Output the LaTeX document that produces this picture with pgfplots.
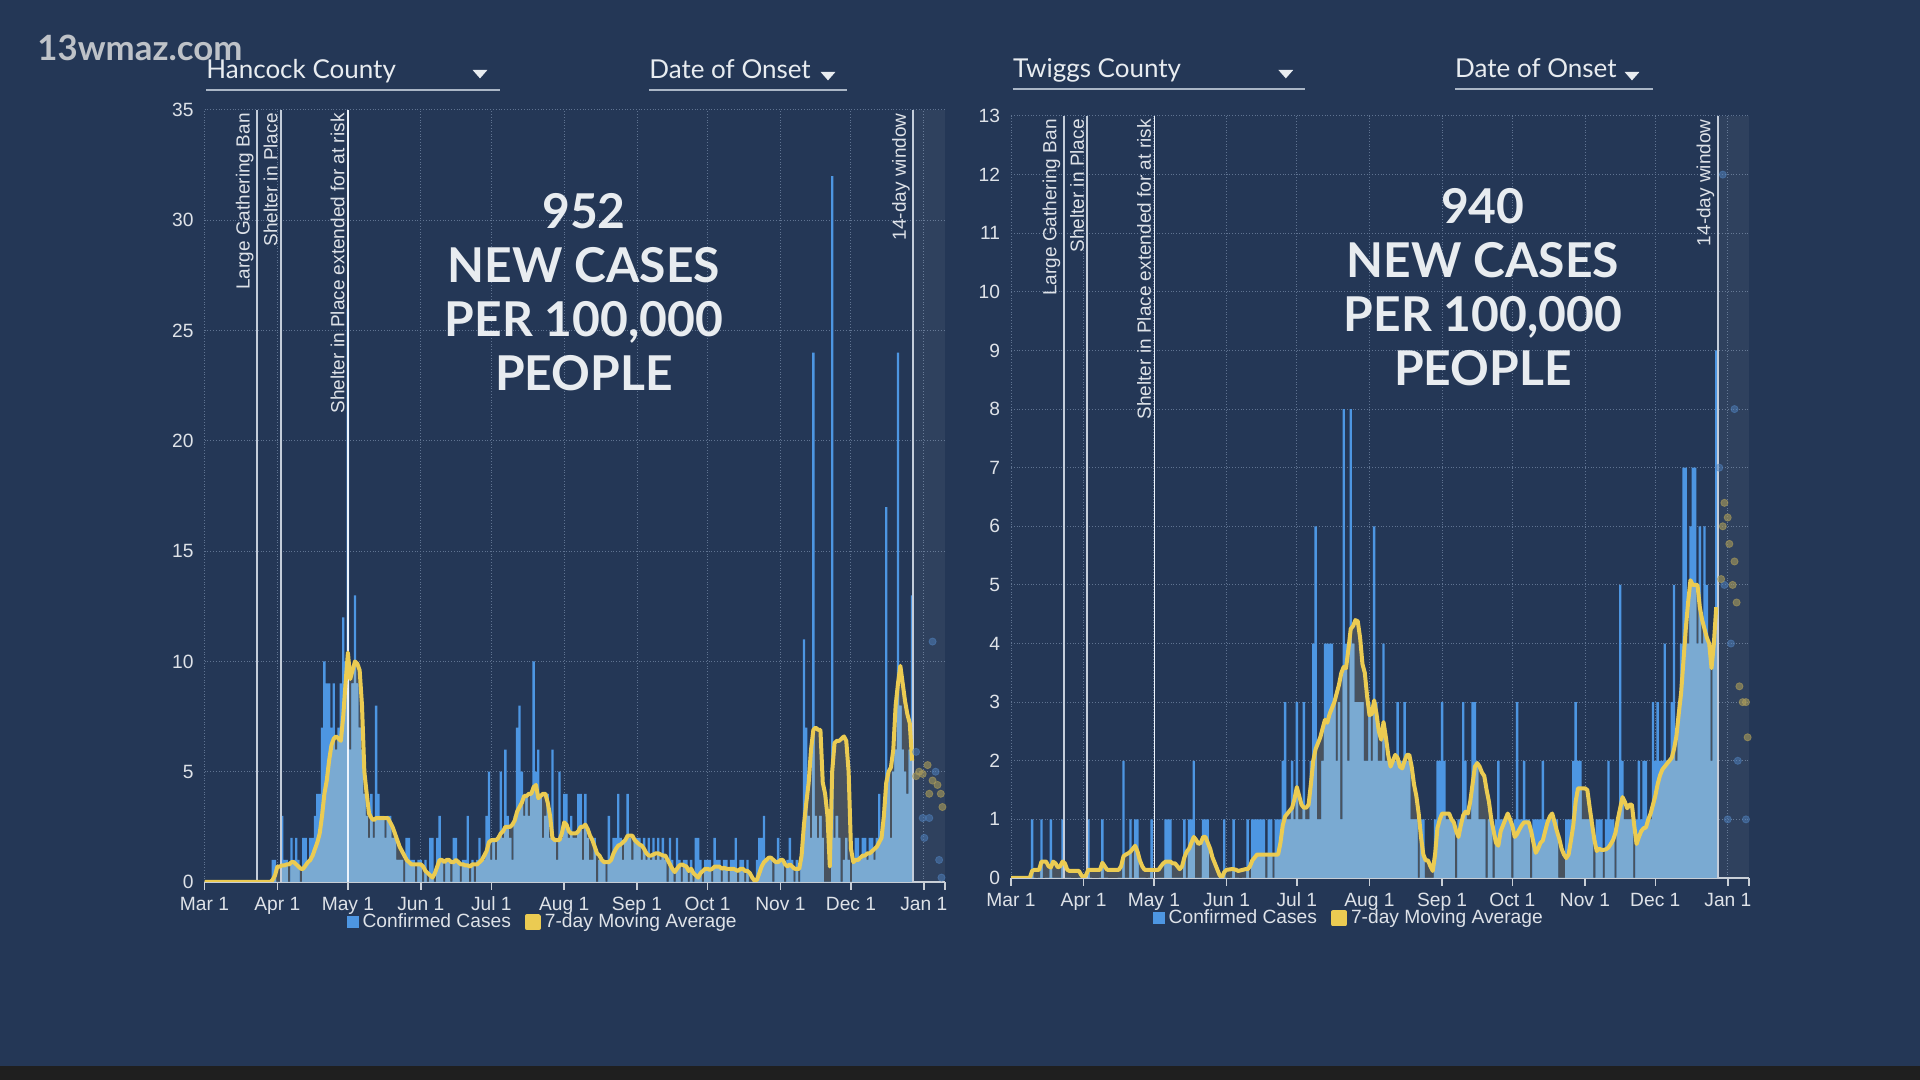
\documentclass[border=0pt]{standalone}
\usepackage{fontspec}
\setmainfont{Liberation Sans}
\newfontfamily\lato{Lato}
\usepackage{pgfplots}
\usepackage{pgfplotstable}
\pgfplotsset{compat=1.18}

\definecolor{bg}{RGB}{36,55,86}
\definecolor{barblue}{RGB}{77,150,226}
\definecolor{lightbar}{RGB}{122,170,210}
\definecolor{mafill}{RGB}{72,82,94}
\definecolor{mayel}{RGB}{235,203,82}
\definecolor{gridc}{RGB}{95,115,145}
\definecolor{axc}{RGB}{200,206,214}
\definecolor{txt}{RGB}{222,226,232}
\definecolor{evline}{RGB}{196,205,218}
\definecolor{titlec}{RGB}{232,236,240}
\definecolor{ulc}{RGB}{170,182,198}
\definecolor{dotblue}{RGB}{80,130,190}
\definecolor{dotyel}{RGB}{170,155,90}
\definecolor{wmc}{RGB}{190,194,200}

\pgfplotstableread[row sep=\\]{
d v m\\
0 0 0\\ 28 0 0\\ 29 1 0.1\\ 30 1 0.3\\ 31 0 0.7\\ 32 0 0.7\\ 33 3 0.75\\ 34 1 0.75\\ 35 1 0.8\\ 36 0 0.8\\ 37 2 0.9\\ 38 1 0.9\\ 39 2 0.8\\ 40 1 0.7\\
41 0 0.6\\ 42 2 0.6\\ 43 2 0.75\\ 44 1 0.9\\ 45 2 1.0\\ 46 2 1.2\\ 47 3 1.5\\ 48 4 1.8\\ 49 4 2.2\\ 50 7 3.0\\ 51 10 4.0\\ 52 9 4.6\\ 53 9 5.5\\ 54 7 6.2\\ 55 9 6.5\\
56 6 6.6\\ 57 7 6.5\\ 58 9 6.4\\ 59 12 7.5\\ 60 10 9.0\\ 61 26 10.4\\ 62 6 9.2\\ 63 9 9.6\\ 64 13 10.0\\ 65 9 9.9\\ 66 7 9.6\\ 67 6 8.0\\ 68 4 5.0\\ 69 3 4.0\\ 70 2 3.1\\
71 4 2.9\\ 72 2 2.8\\ 73 8 2.9\\ 74 4 2.9\\ 75 3 2.9\\ 76 3 2.9\\ 77 2 2.9\\ 78 3 2.9\\ 79 3 2.7\\ 80 2 2.5\\ 81 2 2.2\\ 82 1 1.9\\ 83 1 1.6\\ 84 1 1.4\\ 85 0 1.2\\
86 2 1.0\\ 87 2 0.9\\ 88 1 0.8\\ 89 1 0.8\\ 90 0 0.8\\ 91 1 0.8\\ 92 1 0.8\\ 93 0 0.7\\ 94 1 0.5\\ 95 0 0.4\\ 96 2 0.3\\ 97 2 0.2\\ 98 0 0.4\\ 99 2 0.7\\ 100 3 1.0\\
101 1 1.0\\ 102 0 0.9\\ 103 1 1.0\\ 104 1 1.0\\ 105 0 0.9\\ 106 2 0.9\\ 107 2 1.0\\ 108 1 0.9\\ 109 0 0.8\\ 110 1 0.8\\ 111 1 0.75\\ 112 3 0.75\\ 113 0 0.7\\ 114 1 0.8\\ 115 0 0.8\\
116 1 0.8\\ 117 2 0.9\\ 118 1 1.0\\ 119 1 1.2\\ 120 3 1.4\\ 121 5 1.8\\ 122 1 1.9\\ 123 2 1.9\\ 124 1 1.9\\ 125 2 2.0\\ 126 5 2.2\\ 127 2 2.3\\ 128 6 2.5\\ 129 3 2.5\\ 130 2 2.5\\
131 1 2.6\\ 132 3 2.8\\ 133 7 3.2\\ 134 8 3.4\\ 135 5 3.6\\ 136 3 3.9\\ 137 4 3.9\\ 138 3 4.0\\ 139 4 4.0\\ 140 10 4.3\\ 141 5 4.4\\ 142 6 3.8\\ 143 4 3.9\\ 144 2 4.0\\ 145 3 4.0\\
146 4 3.6\\ 147 2 3.0\\ 148 6 2.0\\ 149 2 1.9\\ 150 1 1.9\\ 151 5 1.9\\ 152 2 2.2\\ 153 4 2.7\\ 154 4 2.6\\ 155 2 2.3\\ 156 3 2.2\\ 157 2 2.2\\ 158 2 2.2\\ 159 4 2.3\\ 160 4 2.5\\
161 1 2.5\\ 162 4 2.6\\ 163 2 2.4\\ 164 1 2.1\\ 165 1 1.9\\ 166 2 1.6\\ 167 0 1.3\\ 168 1 1.2\\ 169 1 1.0\\ 170 1 0.9\\ 171 0 0.9\\ 172 3 0.9\\ 173 1 1.0\\ 174 2 1.3\\ 175 2 1.5\\
176 4 1.65\\ 177 2 1.7\\ 178 1 1.8\\ 179 2 1.9\\ 180 4 2.1\\ 181 2 2.1\\ 182 1 2.1\\ 183 2 1.9\\ 184 2 1.8\\ 185 2 1.7\\ 186 1 1.65\\ 187 2 1.5\\ 188 1 1.3\\ 189 2 1.2\\ 190 1 1.2\\
191 2 1.25\\ 192 1 1.3\\ 193 2 1.3\\ 194 1 1.25\\ 195 2 1.2\\ 196 1 1.2\\ 197 0 1.0\\ 198 2 0.8\\ 199 1 0.6\\ 200 0 0.45\\ 201 2 0.6\\ 202 1 0.75\\ 203 0 0.8\\ 204 1 0.75\\ 205 1 0.7\\
206 0 0.5\\ 207 1 0.6\\ 208 0 0.4\\ 209 2 0.3\\ 210 2 0.2\\ 211 1 0.4\\ 212 0 0.5\\ 213 1 0.6\\ 214 1 0.6\\ 215 1 0.55\\ 216 0 0.6\\ 217 2 0.7\\ 218 1 0.7\\ 219 1 0.7\\ 220 0 0.6\\
221 1 0.65\\ 222 1 0.6\\ 223 0 0.6\\ 224 1 0.6\\ 225 1 0.6\\ 226 2 0.55\\ 227 0 0.5\\ 228 1 0.6\\ 229 1 0.6\\ 230 0 0.5\\ 231 1 0.5\\ 232 0 0.4\\ 233 0 0.2\\ 234 0 0.05\\ 235 1 0.1\\
236 2 0.4\\ 237 2 0.7\\ 238 3 0.9\\ 239 1 1.0\\ 240 1 1.1\\ 241 1 1.1\\ 242 0 1.0\\ 243 1 0.9\\ 244 2 0.9\\ 245 1 1.0\\ 246 1 1.0\\ 247 0 0.8\\ 248 1 0.7\\ 249 2 0.8\\ 250 1 0.7\\
251 0 0.6\\ 252 1 0.6\\ 253 0 0.6\\ 254 1 1.2\\ 255 11 2.6\\ 256 7 3.6\\ 257 3 4.5\\ 258 2 6.0\\ 259 24 6.9\\ 260 3 7.0\\ 261 2 6.9\\ 262 3 6.9\\ 263 2 4.5\\ 264 0 4.0\\ 265 0 3.0\\
266 0 0.7\\ 267 32 5.0\\ 268 2 6.3\\ 269 3 6.4\\ 270 2 6.4\\ 271 0 6.5\\ 272 1 6.6\\ 273 2 6.4\\ 274 1 5.0\\ 275 0 1.5\\ 276 1 0.9\\ 277 2 1.0\\ 278 2 1.0\\ 279 1 1.1\\ 280 2 1.2\\
281 2 1.2\\ 282 1 1.3\\ 283 2 1.3\\ 284 2 1.4\\ 285 1 1.5\\ 286 2 1.6\\ 287 4 1.8\\ 288 2 2.0\\ 289 3 3.0\\ 290 17 4.5\\ 291 5 5.0\\ 292 2 5.2\\ 293 5 6.0\\ 294 6 8.0\\ 295 24 9.0\\
296 8 9.8\\ 297 6 9.0\\ 298 5 8.2\\ 299 4 7.6\\ 300 6 7.2\\ 301 13 5.5\\
}\hancock

\pgfplotstableread[row sep=\\]{
d v m\\
0 0 0\\ 8 0 0\\ 9 1 0.12\\ 10 0 0.14\\ 12 0 0.14\\ 13 1 0.28\\ 15 0 0.28\\ 16 0 0.2\\ 17 1 0.18\\ 18 0 0.28\\ 19 0 0.25\\ 20 0 0.18\\ 21 0 0.2\\ 22 1 0.28\\ 23 0 0.25\\
24 0 0.14\\ 25 0 0.12\\ 29 0 0.12\\ 30 0 0.05\\ 31 0 0\\ 32 0 0.05\\ 33 1 0.14\\ 34 0 0.14\\ 38 0 0.14\\ 39 1 0.26\\ 40 0 0.2\\ 41 0 0.14\\ 46 0 0.14\\ 47 0 0.2\\ 48 2 0.37\\
49 0 0.4\\ 50 0 0.42\\ 51 1 0.45\\ 52 0 0.5\\ 53 1 0.55\\ 54 1 0.45\\ 55 0 0.3\\ 56 0 0.2\\ 57 0 0.14\\ 59 0 0.14\\ 60 1 0.14\\ 63 0 0.14\\ 64 0 0.2\\ 65 0 0.25\\ 66 1 0.28\\
67 1 0.28\\ 68 1 0.28\\ 69 0 0.25\\ 70 0 0.25\\ 71 0 0.2\\ 72 0 0.15\\ 73 0 0.2\\ 74 1 0.35\\ 75 0 0.45\\ 76 1 0.5\\ 77 1 0.6\\ 78 2 0.7\\ 79 0 0.65\\ 80 0 0.58\\ 81 0 0.6\\
82 1 0.7\\ 83 1 0.7\\ 84 1 0.6\\ 85 0 0.5\\ 86 0 0.35\\ 87 0 0.25\\ 88 0 0.15\\ 89 0 0.05\\ 90 0 0\\ 91 1 0.1\\ 92 0 0.14\\ 94 0 0.15\\ 95 1 0.15\\ 96 0 0.14\\ 97 0 0.12\\
99 0 0.14\\ 100 0 0.15\\ 101 1 0.15\\ 102 0 0.2\\ 103 1 0.3\\ 104 1 0.35\\ 105 1 0.4\\ 106 1 0.4\\ 107 1 0.4\\ 108 1 0.4\\ 109 0 0.4\\ 110 1 0.4\\ 111 1 0.4\\ 112 0 0.4\\ 113 1 0.4\\
114 1 0.4\\ 115 1 0.6\\ 116 2 0.9\\ 117 3 1.05\\ 118 1 1.1\\ 119 1 1.15\\ 120 2 1.2\\ 121 1 1.35\\ 122 3 1.55\\ 123 1 1.4\\ 124 1 1.25\\ 125 3 1.2\\ 126 1 1.2\\ 127 1 1.25\\ 128 2 1.6\\
129 4 2.0\\ 130 6 2.2\\ 131 1 2.3\\ 132 1 2.4\\ 133 2 2.55\\ 134 4 2.7\\ 135 4 2.65\\ 136 4 2.8\\ 137 4 2.9\\ 138 3 3.0\\ 139 2 3.15\\ 140 3 3.3\\ 141 1 3.5\\ 142 8 3.6\\ 143 4 3.58\\
144 2 3.9\\ 145 8 4.25\\ 146 4 4.3\\ 147 3 4.4\\ 148 3 4.38\\ 149 3 4.1\\ 150 3 3.65\\ 151 2 3.5\\ 152 2 3.1\\ 153 3 2.78\\ 154 2 2.8\\ 155 6 3.03\\ 156 3 2.8\\ 157 2 2.5\\ 158 2 2.36\\
159 4 2.66\\ 160 2 2.4\\ 161 2 2.1\\ 162 2 1.9\\ 163 2 2.0\\ 164 2 2.1\\ 165 3 2.05\\ 166 2 1.9\\ 167 2 1.87\\ 168 3 2.0\\ 169 2 2.1\\ 170 2 2.1\\ 171 1 1.9\\ 172 1 1.6\\ 173 1 1.4\\
174 0 1.1\\ 175 1 0.7\\ 176 1 0.4\\ 177 0 0.3\\ 178 0 0.3\\ 179 0 0.2\\ 180 0 0.12\\ 181 1 0.4\\ 182 2 0.85\\ 183 2 1.0\\ 184 3 1.1\\ 185 2 1.1\\ 186 1 1.1\\ 187 1 1.1\\ 188 1 1.0\\
189 1 0.95\\ 190 0 0.8\\ 191 1 0.7\\ 192 1 0.9\\ 193 3 1.07\\ 194 2 1.13\\ 195 1 1.1\\ 196 1 1.3\\ 197 3 1.6\\ 198 3 1.9\\ 199 2 1.96\\ 200 1 1.9\\ 201 1 1.8\\ 202 1 1.74\\ 203 0 1.5\\
204 1 1.3\\ 205 1 1.0\\ 206 0 0.8\\ 207 1 0.6\\ 208 2 0.55\\ 209 1 0.8\\ 210 1 0.9\\ 211 1 1.0\\ 212 1 1.1\\ 213 1 1.0\\ 214 0 0.89\\ 215 1 0.7\\ 216 3 0.75\\ 217 1 0.83\\ 218 1 0.9\\
219 2 0.95\\ 220 1 0.95\\ 221 1 0.95\\ 222 0 0.8\\ 223 1 0.6\\ 224 1 0.43\\ 225 1 0.5\\ 226 1 0.6\\ 227 2 0.64\\ 228 1 0.8\\ 229 1 0.95\\ 230 1 1.05\\ 231 1 1.1\\ 232 1 0.95\\ 233 1 0.8\\
234 0 0.67\\ 235 0 0.5\\ 236 0 0.4\\ 237 1 0.34\\ 238 1 0.4\\ 239 1 0.64\\ 240 2 0.9\\ 241 3 1.3\\ 242 2 1.53\\ 243 2 1.53\\ 244 1 1.53\\ 245 1 1.53\\ 246 1 1.5\\ 247 1 1.2\\ 248 1 0.92\\
249 0 0.65\\ 250 1 0.46\\ 251 1 0.5\\ 252 1 0.48\\ 253 0 0.48\\ 254 1 0.49\\ 255 2 0.52\\ 256 1 0.58\\ 257 1 0.65\\ 258 0 0.77\\ 259 1 1.0\\ 260 5 1.19\\ 261 2 1.38\\ 262 1 1.3\\ 263 1 1.19\\
264 1 1.25\\ 265 1 1.25\\ 266 0 0.9\\ 267 1 0.58\\ 268 2 0.7\\ 269 1 0.8\\ 270 2 0.85\\ 271 2 0.86\\ 272 1 1.0\\ 273 1 1.1\\ 274 3 1.25\\ 275 2 1.4\\ 276 3 1.6\\ 277 2 1.75\\ 278 2 1.85\\
279 4 1.9\\ 280 2 1.95\\ 281 2 2.0\\ 282 3 2.05\\ 283 5 2.2\\ 284 2 2.42\\ 285 3 2.8\\ 286 4 3.15\\ 287 7 3.7\\ 288 7 4.25\\ 289 4 4.7\\ 290 6 5.08\\ 291 7 5.0\\ 292 7 5.0\\ 293 4 5.0\\
294 6 4.62\\ 295 4 4.4\\ 296 6 4.25\\ 297 5 4.1\\ 298 4 4.0\\ 299 2 3.58\\ 300 4 4.0\\ 301 9 4.62\\
}\twiggs

\tikzset{
  evt/.style={rotate=90, anchor=south east, font=\fontsize{9.5}{11}\selectfont, text=txt, inner sep=1.5pt},
}
\pgfplotsset{
  panel/.style={
    scale only axis,
    xmin=0, xmax=315, ymin=0,
    axis x line*=bottom, axis y line*=left,
    y axis line style={draw=none},
    x axis line style={axc, line width=1pt},
    xtick={0,31,61,92,122,153,184,214,245,275,306},
    xticklabels={Mar 1,Apr 1,May 1,Jun 1,Jul 1,Aug 1,Sep 1,Oct 1,Nov 1,Dec 1,Jan 1},
    extra x ticks={315}, extra x tick labels={}, extra x tick style={grid=none},
    xtick style={axc, line width=0.8pt},
    tick align=outside,
    major tick length=4pt,
    ytick style={draw=none},
    xmajorgrids, ymajorgrids,
    grid style={gridc, densely dotted, line width=0.5pt},
    ticklabel style={font=\fontsize{9.6}{11}\selectfont, text=txt},
    yticklabel style={xshift=2pt},
    /pgf/number format/assume math mode=true,
    legend style={draw=none, fill=none, text=txt, font=\fontsize{9.6}{11}\selectfont,
      legend columns=2, anchor=center,
      /tikz/every even column/.append style={column sep=5pt}},
  },
  evl/.style={evline, line width=0.9pt, forget plot},
}

\begin{document}
\begin{tikzpicture}[x=1pt,y=1pt]
\fill[bg] (0,0) rectangle (960,540);
\fill[black!88] (0,0) rectangle (960,7);

% ---------------- left panel ----------------
\begin{axis}[panel, at={(102.25pt,99pt)}, anchor=south west,
  width=370.25pt, height=386pt, ymax=35, ytick={0,5,...,35},
  legend style={at={(0.458,-0.052)}}]
\addplot[fill=white, fill opacity=0.05, draw=none, forget plot] coordinates {(301.5,35) (315,35)} \closedcycle;
\addplot[fill=mafill, draw=none, forget plot] table[x=d,y=m]{\hancock} \closedcycle;
\addplot[ybar, bar width=1, bar shift=0pt, fill=barblue, draw=none,
  legend image code/.code={\fill[barblue] (0pt,-3pt) rectangle (6pt,3pt);}] table[x=d,y=v]{\hancock};
\addlegendentry{Confirmed Cases}
\addplot[ybar, bar width=1, bar shift=0pt, fill=lightbar, draw=none, forget plot] table[x=d,y expr={min(\thisrow{v},\thisrow{m})}]{\hancock};
\addplot[evl] coordinates {(22.3,0) (22.3,35)};
\addplot[evl] coordinates {(32.5,0) (32.5,35)};
\addplot[evl, color=white!90!barblue] coordinates {(61,0) (61,35)};
\addplot[evl] coordinates {(301.5,0) (301.5,35)};
\addplot[only marks, mark=*, mark size=1.8pt, color=dotblue, opacity=0.5, forget plot] coordinates {(302.7,5.9) (305.5,2.9) (306.2,2) (308.3,2.9) (309.7,10.9) (311,5) (312.5,1) (313.5,0.2)};
\addplot[only marks, mark=*, mark size=1.8pt, color=dotyel, opacity=0.6, forget plot] coordinates {(302.7,4.8) (304,5) (305.5,4.9) (307.6,5.3) (308.3,4) (309.7,4.6) (311.8,4.4) (313.2,4) (313.9,3.4)};
\addplot[mayel, line width=2pt, line join=round,
  legend image code/.code={\fill[mayel] (0pt,-3pt) rectangle (6pt,3pt);}] table[x=d,y=m]{\hancock};
\addlegendentry{7-day Moving Average}
\node[evt] at (axis cs:22.3,35) {Large Gathering Ban};
\node[evt] at (axis cs:32.5,35) {Shelter in Place};
\node[evt] at (axis cs:61,35) {Shelter in Place extended for at risk};
\node[evt] at (axis cs:301.5,35) {14-day window};
\end{axis}

% ---------------- right panel ----------------
\begin{axis}[panel, at={(505.5pt,101pt)}, anchor=south west,
  width=369pt, height=381pt, ymax=13, ytick={0,1,...,13},
  legend style={at={(0.459,-0.053)}}]
\addplot[fill=white, fill opacity=0.05, draw=none, forget plot] coordinates {(301.5,13) (315,13)} \closedcycle;
\addplot[fill=mafill, draw=none, forget plot] table[x=d,y=m]{\twiggs} \closedcycle;
\addplot[ybar, bar width=1, bar shift=0pt, fill=barblue, draw=none,
  legend image code/.code={\fill[barblue] (0pt,-3pt) rectangle (6pt,3pt);}] table[x=d,y=v]{\twiggs};
\addlegendentry{Confirmed Cases}
\addplot[ybar, bar width=1, bar shift=0pt, fill=lightbar, draw=none, forget plot] table[x=d,y expr={min(\thisrow{v},\thisrow{m})}]{\twiggs};
\addplot[evl] coordinates {(22.5,0) (22.5,13)};
\addplot[evl] coordinates {(32.6,0) (32.6,13)};
\addplot[evl, color=white!90!barblue] coordinates {(61.2,0) (61.2,13)};
\addplot[evl] coordinates {(301.6,0) (301.6,13)};
\addplot[only marks, mark=*, mark size=1.8pt, color=dotblue, opacity=0.5, forget plot] coordinates {(303.8,12) (302.3,7) (304.5,5) (307.3,4) (308.8,8) (310.2,2) (305.9,1) (313.7,1)};
\addplot[only marks, mark=*, mark size=1.8pt, color=dotyel, opacity=0.6, forget plot] coordinates {(304.5,6.4) (305.9,6.15) (303.8,6.0) (306.6,5.7) (308.8,5.4) (303.1,5.1) (308,5) (309.7,4.7) (310.9,3.27) (312.3,3) (313.7,3) (314.4,2.4)};
\addplot[mayel, line width=2pt, line join=round,
  legend image code/.code={\fill[mayel] (0pt,-3pt) rectangle (6pt,3pt);}] table[x=d,y=m]{\twiggs};
\addlegendentry{7-day Moving Average}
\node[evt] at (axis cs:22.5,13) {Large Gathering Ban};
\node[evt] at (axis cs:32.6,13) {Shelter in Place};
\node[evt] at (axis cs:61.2,13) {Shelter in Place extended for at risk};
\node[evt] at (axis cs:301.6,13) {14-day window};
\end{axis}

% ---------------- headers ----------------
\node[anchor=base west, inner sep=0, font=\lato\bfseries\fontsize{17.4}{20}\selectfont, text=wmc] at (18.5,509.5) {13wmaz.com};

\node[anchor=base west, inner sep=0, font=\lato\fontsize{13}{16}\selectfont, text=titlec] at (103,500.8) {Hancock County};
\draw[ulc, line width=1pt] (103,495) -- (250,495);
\fill[titlec] (236.3,505) -- (243.7,505) -- (240,500.8) -- cycle;
\node[anchor=base west, inner sep=0, font=\lato\fontsize{13}{16}\selectfont, text=titlec] at (324.5,500.8) {Date of Onset};
\draw[ulc, line width=1pt] (324.5,495) -- (423.5,495);
\fill[titlec] (410.3,504) -- (417.7,504) -- (414,499.8) -- cycle;

\node[anchor=base west, inner sep=0, font=\lato\fontsize{13}{16}\selectfont, text=titlec] at (506.3,501.3) {Twiggs County};
\draw[ulc, line width=1pt] (506.3,495.5) -- (652.7,495.5);
\fill[titlec] (639.2,505) -- (646.6,505) -- (642.9,500.8) -- cycle;
\node[anchor=base west, inner sep=0, font=\lato\fontsize{13}{16}\selectfont, text=titlec] at (727.4,501.3) {Date of Onset};
\draw[ulc, line width=1pt] (727.4,495.5) -- (826.5,495.5);
\fill[titlec] (812.3,504) -- (819.7,504) -- (816,499.8) -- cycle;

% ---------------- big numbers ----------------
\node[align=center, font=\lato\bfseries\fontsize{24}{27.1}\selectfont, text=titlec] at (292,394) {952\\NEW CASES\\PER 100,000\\PEOPLE};
\node[align=center, font=\lato\bfseries\fontsize{24}{27.1}\selectfont, text=titlec] at (741.4,396.4) {940\\NEW CASES\\PER 100,000\\PEOPLE};

\pgfresetboundingbox
\path[use as bounding box] (0,0) rectangle (960,540);
\end{tikzpicture}
\end{document}
